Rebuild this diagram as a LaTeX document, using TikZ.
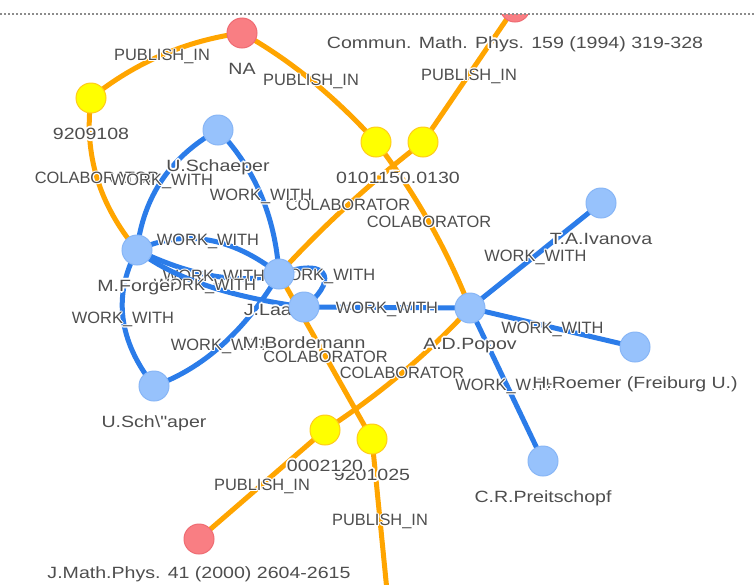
\documentclass[tikz,border=0pt]{standalone}
\usepackage{fontspec}
\setmainfont{Liberation Sans}
\newfontfamily\edgesans{Liberation Sans}
\newfontfamily\widesans[FakeStretch=1.2]{Liberation Sans}
\usetikzlibrary{calc}
\pgfdeclarelayer{bg}
\pgfdeclarelayer{edges}
\pgfsetlayers{bg,edges,main}

\definecolor{nodeblue}{HTML}{97C2FC}
\definecolor{nodebluerim}{HTML}{88B6F6}
\definecolor{nodeyellow}{HTML}{FFFF00}
\definecolor{nodeyellowrim}{HTML}{FFCC1A}
\definecolor{nodered}{HTML}{F97E83}
\definecolor{noderedrim}{HTML}{EF6C73}
\definecolor{edgeblue}{HTML}{2B7CE9}
\definecolor{edgeorange}{HTML}{FFA500}
\definecolor{labelgray}{HTML}{4E4E4E}

% white outline behind label text
\newcommand\haloshift[3]{\rlap{\hspace*{#1}\raisebox{#2}{#3}}}
\newcommand\halotext[3]{{\color{white}%
  \haloshift{#1}{0pt}{#3}\haloshift{-#1}{0pt}{#3}%
  \haloshift{0pt}{#1}{#3}\haloshift{0pt}{-#1}{#3}%
  \haloshift{#2}{#2}{#3}\haloshift{-#2}{#2}{#3}%
  \haloshift{#2}{-#2}{#3}\haloshift{-#2}{-#2}{#3}}#3}
\newcommand\elab[1]{\halotext{1.1pt}{0.8pt}{#1}}
\newcommand\nlab[1]{\halotext{1.8pt}{1.3pt}{#1}}

\tikzset{
  gnodebase/.style={circle, minimum size=30pt, inner sep=0pt, line width=1pt},
  bnode/.style={gnodebase, fill=nodeblue, draw=nodebluerim},
  ynode/.style={gnodebase, fill=nodeyellow, draw=nodeyellowrim},
  rnode/.style={gnodebase, fill=nodered, draw=noderedrim},
  wedge/.style={draw=edgeblue, line width=5pt},
  cedge/.style={draw=edgeorange, line width=5pt},
  elabel/.style={font=\edgesans\fontsize{16.4}{18}\selectfont, text=labelgray,
    inner sep=0pt, text height=11.7pt, text depth=0pt, anchor=center},
  nlabel/.style={font=\widesans\fontsize{16.3}{18}\selectfont, text=labelgray,
    inner sep=0pt, anchor=base},
  dotline/.style={draw=black!45, line width=1.5pt, dash pattern=on 1.5pt off 2.5pt}
}

% node with its caption below
\newcommand\gnode[4]{%
  \node[#2] (#1) at (#3) {};
  \node[nlabel] (#1-l) at ($(#1)+(0,41.3)$) {\nlab{#4}};}
% curved connector through a quadratic control point, caption at its middle
\newcommand\qedge[6][wedge]{%
  \draw[#1] (#2.center) .. controls ($(#2)!0.6667!(#3)$) and ($(#4)!0.6667!(#3)$) .. (#4.center)
    node[elabel,pos=0.5] (#5) {\elab{#6}};}
% straight connector
\newcommand\sedge[5][wedge]{%
  \draw[#1] (#2.center) -- (#3.center) node[elabel,pos=0.5] (#4) {\elab{#5}};}

\begin{document}
\begin{tikzpicture}[x=1pt,y=-1pt]
\useasboundingbox (0,0) rectangle (754,584);
\begin{pgfonlayer}{bg}
  \fill[white] (0,0) rectangle (754,584);
\end{pgfonlayer}

% ---- nodes ----
\gnode{na}{rnode}{242,33}{NA}
\gnode{cmp}{rnode}{515,7}{Commun. Math. Phys. 159 (1994) 319-328}
\gnode{p92}{ynode}{91,98}{9209108}
\gnode{us}{bnode}{218,130}{U.Schaeper}
\node[ynode] (pa) at (376,142) {};
\node[ynode] (pb) at (423,142) {};
\node[nlabel] (pa-l) at (398,183) {\nlab{0101150.0130}};
\gnode{mf}{bnode}{137,250}{M.Forger}
\node[bnode] (jl) at (279,274) {};
\node[nlabel, anchor=base east] (jl-l) at (292,315.3) {\nlab{J.Laa}};
\gnode{mb}{bnode}{304,307}{M.Bordemann}
\gnode{ap}{bnode}{470,308}{A.D.Popov}
\gnode{ti}{bnode}{601,203}{T.A.Ivanova}
\gnode{hr}{bnode}{635,347}{H.Roemer (Freiburg U.)}
\gnode{cr}{bnode}{543,461}{C.R.Preitschopf}
\gnode{ua}{bnode}{154,386}{U.Sch\textbackslash"aper}
\gnode{p92b}{ynode}{372,439}{9201025}
\gnode{p00}{ynode}{325,430}{0002120}
\node[rnode] (jmp) at (199,539) {};
\node[nlabel] (jmp-l) at (199,578.3) {\nlab{J.Math.Phys. 41 (2000) 2604-2615}};
\coordinate (bt) at (388,601);

% ---- connectors ----
\begin{pgfonlayer}{edges}
  % papers and collaborations
  \qedge[cedge]{p92}{157.5,44.5}{na}{e1}{PUBLISH\_IN}
  \qedge[cedge]{na}{313,72.5}{pa}{e2}{PUBLISH\_IN}
  \sedge[cedge]{pb}{cmp}{e3}{PUBLISH\_IN}
  \qedge[cedge]{p92}{80,182}{mf}{e4}{COLABORATOR}
  \qedge[cedge]{pa}{435,219}{ap}{e5}{COLABORATOR}
  \qedge[cedge]{pb}{345,202}{jl}{e6}{COLABORATOR}
  \sedge[cedge]{jl}{p92b}{e7}{COLABORATOR}
  \qedge[cedge]{ap}{406.5,377}{p00}{e8}{COLABORATOR}
  \sedge[cedge]{p00}{jmp}{e9}{PUBLISH\_IN}
  \sedge[cedge]{p92b}{bt}{e10}{PUBLISH\_IN}
  % co-authors
  \qedge{us}{146.5,170}{mf}{e11}{WORK\_WITH}
  \qedge{us}{273.5,188}{jl}{e12}{WORK\_WITH}
  \qedge{mf}{208,218}{jl}{e13}{WORK\_WITH}
  \qedge{mf}{220,290}{jl}{e14}{WORK\_WITH}
  \qedge{mf}{189.5,291.5}{mb}{e15}{WORK\_WITH}
  \draw[wedge] (jl.center) .. controls (335,255) and (335,285) .. (mb.center)
    node[elabel,pos=0.5] (e16) {\elab{WORK\_WITH}};
  \qedge{mf}{100.5,318}{ua}{e17}{WORK\_WITH}
  \qedge{ua}{227.5,360}{jl}{e18}{WORK\_WITH}
  \sedge{mb}{ap}{e19}{WORK\_WITH}
  \sedge{ap}{ti}{e20}{WORK\_WITH}
  \sedge{ap}{hr}{e21}{WORK\_WITH}
  \sedge{ap}{cr}{e22}{WORK\_WITH}
\end{pgfonlayer}

% ---- upper edge of the view ----
\fill[white] (0,0) rectangle (754,13.5);
\draw[dotline] (0,14) -- (754,14);
\end{tikzpicture}
\end{document}
